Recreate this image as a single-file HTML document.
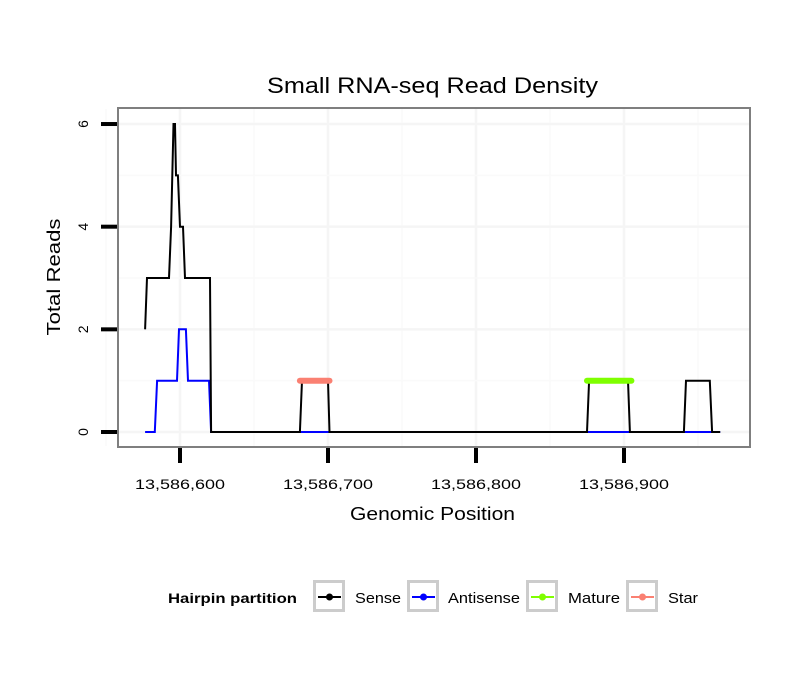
<!DOCTYPE html>
<html><head><meta charset="utf-8"><style>
body{margin:0;background:#fff;width:810px;height:690px;overflow:hidden;font-family:"Liberation Sans",sans-serif}
</style></head><body>
<svg width="810" height="690" font-family="Liberation Sans, sans-serif">
<text x="267" y="93" font-size="22" textLength="331" lengthAdjust="spacingAndGlyphs">Small RNA-seq Read Density</text>
<g id="grid"></g>
<g id="series"></g>
<rect x="118" y="108" width="632" height="339" fill="none" stroke="#7f7f7f" stroke-width="2"/>
<g id="axes"></g>
<text x="350" y="520" font-size="18" textLength="165" lengthAdjust="spacingAndGlyphs">Genomic Position</text>
<text x="0" y="0" font-size="18" text-anchor="middle" textLength="117" lengthAdjust="spacingAndGlyphs" transform="translate(60,277) rotate(-90)">Total Reads</text>
<g>
<text x="168" y="603" font-size="14" font-weight="bold" textLength="129" lengthAdjust="spacingAndGlyphs">Hairpin partition</text>
<g id="legend"></g>
</g>
</svg>
<script>
const BASE=13586600;
const xTicks=[600,700,800,900];
const xTickLabels=["13,586,600","13,586,700","13,586,800","13,586,900"];
const yTicks=[0,2,4,6];
const senseX=[576.4,577.7,592.6,594,595.6,596.6,597.3,598.6,600,602,603.4,620.3,621,681,682.4,700,701,875,876.4,902.7,904,940.5,941.9,958,959.5,965];
const senseY=[2,3,3,4,6,6,5,5,4,4,3,3,0,0,1,1,0,0,1,1,0,0,1,1,0,0];
const antiX=[576.4,583,584.5,598,599.3,604,605.4,619.6,621,965];
const antiY=[0,0,1,1,2,2,1,1,0,0];
const matureX=[875,905];
const matureY=[1,1];
const starX=[681,701];
const starY=[1,1];
const legendNames=["Sense","Antisense","Mature","Star"];
const legendColors=["#000000","#0000ff","#7fff00","#fa8072"];
const NS="http://www.w3.org/2000/svg";
const sx=v=>180+(v-600)*1.48;
const sy=v=>432-v*51.33;
function mk(tag,attrs,parent){const e=document.createElementNS(NS,tag);for(const k in attrs)e.setAttribute(k,attrs[k]);document.getElementById(parent).appendChild(e);return e;}
for(let i=0;i<xTicks.length;i++){
 const e=mk('line',{x1:sx(xTicks[i]),x2:sx(xTicks[i]),y1:109,y2:446,stroke:'#f5f5f5','stroke-width':2.5},'grid');
 
 
 const m=mk('line',{x1:sx(xTicks[i]-50),x2:sx(xTicks[i]-50),y1:109,y2:446,stroke:'#fafafa','stroke-width':1.5},'grid');
 
 
}
{const m=mk('line',{x1:sx(950),x2:sx(950),y1:109,y2:446,stroke:'#fafafa','stroke-width':1.5},'grid');
 
 }
for(let i=0;i<yTicks.length;i++){
 const e=mk('line',{x1:119,x2:749,y1:sy(yTicks[i]),y2:sy(yTicks[i]),stroke:'#f5f5f5','stroke-width':2.5},'grid');
 
 
 if(sy(yTicks[i]+1)>110){
 const m=mk('line',{x1:119,x2:749,y1:sy(yTicks[i]+1),y2:sy(yTicks[i]+1),stroke:'#fafafa','stroke-width':1.5},'grid');
 
 
 }
}
function path(xs,ys){return xs.map((x,i)=>(i?'L':'M')+sx(x).toFixed(1)+','+sy(ys[i]).toFixed(1)).join(' ');}
const a=mk('path',{d:path(antiX,antiY),fill:'none',stroke:'#0000ff','stroke-width':2},'series');


const s=mk('path',{d:path(senseX,senseY),fill:'none',stroke:'#000','stroke-width':2},'series');


const mt=mk('path',{d:path(matureX,matureY),fill:'none',stroke:'#7fff00','stroke-width':6,'stroke-linecap':'round'},'series');


const st=mk('path',{d:path(starX,starY),fill:'none',stroke:'#fa8072','stroke-width':6,'stroke-linecap':'round'},'series');


for(let i=0;i<xTicks.length;i++){
 const t=mk('line',{x1:sx(xTicks[i]),x2:sx(xTicks[i]),y1:448,y2:463,stroke:'#000','stroke-width':4},'axes');
 
 
 const l=mk('text',{x:sx(xTicks[i]),y:489,'font-size':14,'text-anchor':'middle',textLength:90,lengthAdjust:'spacingAndGlyphs'},'axes');
 l.textContent=xTickLabels[i];
 
 
}
for(let i=0;i<yTicks.length;i++){
 const t=mk('line',{x1:101,x2:117,y1:sy(yTicks[i]),y2:sy(yTicks[i]),stroke:'#000','stroke-width':4},'axes');
 
 
 const l=mk('text',{x:0,y:0,'font-size':14,'text-anchor':'middle',transform:'translate(88,'+sy(yTicks[i])+') rotate(-90)'},'axes');
 l.textContent=yTicks[i];
 
 
}
const lx=[313,407,526,626];
const tx=[355,448,568,668];
const tw=[46,72,52,30];
for(let i=0;i<legendNames.length;i++){
 const x=lx[i];
 const b=mk('rect',{x:x+1.5,y:581.5,width:29,height:29,fill:'#fff',stroke:'#cccccc','stroke-width':3},'legend');
 
 
 const ln=mk('line',{x1:x+5,x2:x+28,y1:597,y2:597,stroke:legendColors[i],'stroke-width':2},'legend');
 
 
 const c=mk('circle',{cx:x+16.5,cy:597,r:3.5,fill:legendColors[i]},'legend');
 
 
 const t=mk('text',{x:tx[i],y:603,'font-size':15,textLength:tw[i],lengthAdjust:'spacingAndGlyphs'},'legend');
 t.textContent=legendNames[i];
 
 
}
</script>
</body></html>
